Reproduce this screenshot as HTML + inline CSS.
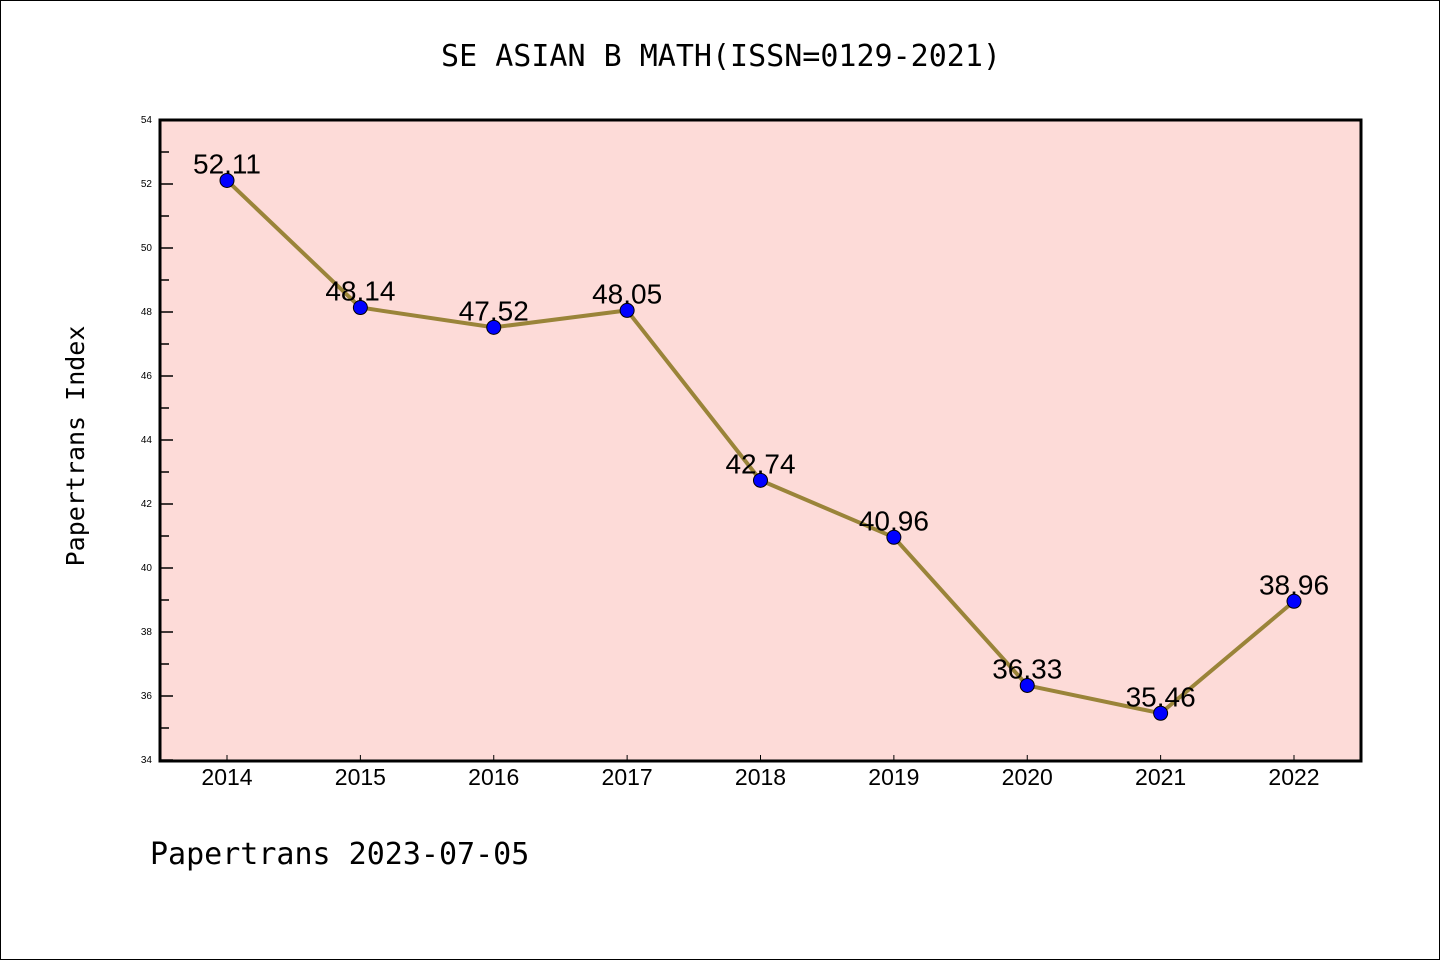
<!DOCTYPE html>
<html><head><meta charset="utf-8"><style>
body{margin:0;background:#fff;}
svg{display:block;font-family:"Liberation Sans","DejaVu Sans",sans-serif;}
</style></head><body>
<svg width="1440" height="960">
<rect x="0.5" y="0.5" width="1439" height="959" fill="#fff" stroke="#000" stroke-width="1"/>
<text x="721" y="66" text-anchor="middle" font-size="30" font-family="DejaVu Sans Mono, Liberation Mono, monospace">SE ASIAN B MATH(ISSN=0129-2021)</text>
<rect x="160" y="120" width="1201" height="641" fill="#fddbd8"/>
<g id="axes"></g>
<g id="marks"></g>
<rect x="160" y="120" width="1201" height="641" fill="none" stroke="#000" stroke-width="3"/>
<text transform="translate(84,446) rotate(-90)" text-anchor="middle" font-size="25" font-family="DejaVu Sans Mono, Liberation Mono, monospace">Papertrans Index</text>
<text x="150" y="864" font-size="30" font-family="DejaVu Sans Mono, Liberation Mono, monospace">Papertrans 2023-07-05</text>
</svg>
<script>
const years=[2014,2015,2016,2017,2018,2019,2020,2021,2022];
const values=[52.11,48.14,47.52,48.05,42.74,40.96,36.33,35.46,38.96];
const yTicks=[34,36,38,40,42,44,46,48,50,52,54];
const NS="http://www.w3.org/2000/svg";
const yMin=34,yMax=54,topY=120,botY=760;
function yS(v){return botY-(v-yMin)/(yMax-yMin)*(botY-topY);}
function xS(i){return 227+i*(1294-227)/(years.length-1);}
function mk(t,a,p){const e=document.createElementNS(NS,t);for(const k in a)e.setAttribute(k,a[k]);p.appendChild(e);return e;}
const ax=document.getElementById('axes'),mg=document.getElementById('marks');
yTicks.forEach(v=>{
 const t=mk('text',{x:152,y:yS(v)+3,'text-anchor':'end','font-size':10},ax);
 t.textContent=v;
 
 
 const l=mk('line',{x1:160,x2:173,y1:yS(v),y2:yS(v),stroke:'#000','stroke-width':1.5},ax);
 
 
 if(v<yMax){const m=mk('line',{x1:160,x2:169,y1:yS(v+1),y2:yS(v+1),stroke:'#000','stroke-width':1.5},ax);
 
 }
});
years.forEach((yr,i)=>{
 const t=mk('text',{x:xS(i),y:785,'text-anchor':'middle','font-size':23},ax);
 t.textContent=yr;
 
 
 const l=mk('line',{x1:xS(i),x2:xS(i),y1:760,y2:755,stroke:'#000','stroke-width':1},ax);
 
 
});
const line=mk('polyline',{points:values.map((v,i)=>xS(i)+','+yS(v)).join(' '),fill:'none',stroke:'#9a8439','stroke-width':4},mg);


values.forEach((v,i)=>{
 const c=mk('circle',{cx:xS(i),cy:yS(v),r:7,fill:'#0000ff',stroke:'#000','stroke-width':1},mg);
 
 
 const t=mk('text',{x:xS(i),y:yS(v)-7,'text-anchor':'middle','font-size':28},mg);
 t.textContent=v.toFixed(2);
 
 
});
</script>
</body></html>
